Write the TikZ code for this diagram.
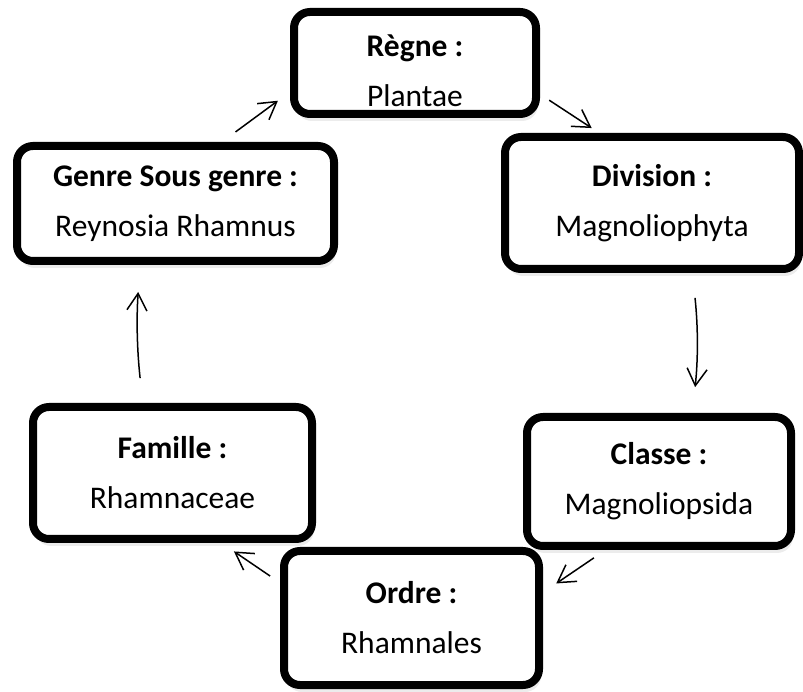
\documentclass[tikz,border=0pt]{standalone}
\usepackage{fontspec}
\setmainfont{Carlito}
\usetikzlibrary{arrows.meta,shadows}

\begin{document}
\begin{tikzpicture}[x=1pt,y=1pt,
	box/.style={draw,line width=8pt,rounded corners=16pt,fill=white,align=center,inner sep=0pt,
		font=\fontsize{31.5}{50}\selectfont,
		drop shadow={shadow xshift=2pt,shadow yshift=-7pt,opacity=.15}},
	arr/.style={line width=1.5pt,-{Straight Barb[length=17pt,width=20pt]}}]
\useasboundingbox(0,0)rectangle(803,691);
\node[box,minimum width=242pt,minimum height=102pt](regne)at(415,628){\raisebox{-9pt}[\height][\depth]{\begin{tabular}{@{}c@{}}\textbf{Règne :}\\Plantae\end{tabular}}};
\node[box,minimum width=294pt,minimum height=132pt](division)at(652,488){\textbf{Division :}\\Magnoliophyta};
\node[box,minimum width=264pt,minimum height=129pt](classe)at(659,209.5){\textbf{Classe :}\\Magnoliopsida};
\node[box,minimum width=255pt,minimum height=134pt](ordre)at(411.5,73){\textbf{Ordre :}\\Rhamnales};
\node[box,minimum width=279pt,minimum height=132pt](famille)at(172.5,218){\textbf{Famille :}\\Rhamnaceae};
\node[box,minimum width=317pt,minimum height=115pt](genre)at(175.5,487.5){\textbf{Genre Sous genre :}\\Reynosia Rhamnus};
% fleches du cycle
\draw[arr,shorten <=11pt,shorten >=9pt](regne.-14)--(division.127);
\draw[arr,shorten <=25pt,shorten >=26pt](division.-60)to[bend left=6](classe.64);
\draw[arr,shorten <=14pt,shorten >=16pt](classe.-128)--(ordre.11);
\draw[arr,shorten <=12pt,shorten >=15pt](ordre.165)--(famille.-55);
\draw[arr,shorten <=25pt,shorten >=27pt](famille.113)to[bend left=5](genre.-120);
\draw[arr,shorten <=17pt,shorten >=15pt](genre.53)--(regne.-167);
\end{tikzpicture}
\end{document}
